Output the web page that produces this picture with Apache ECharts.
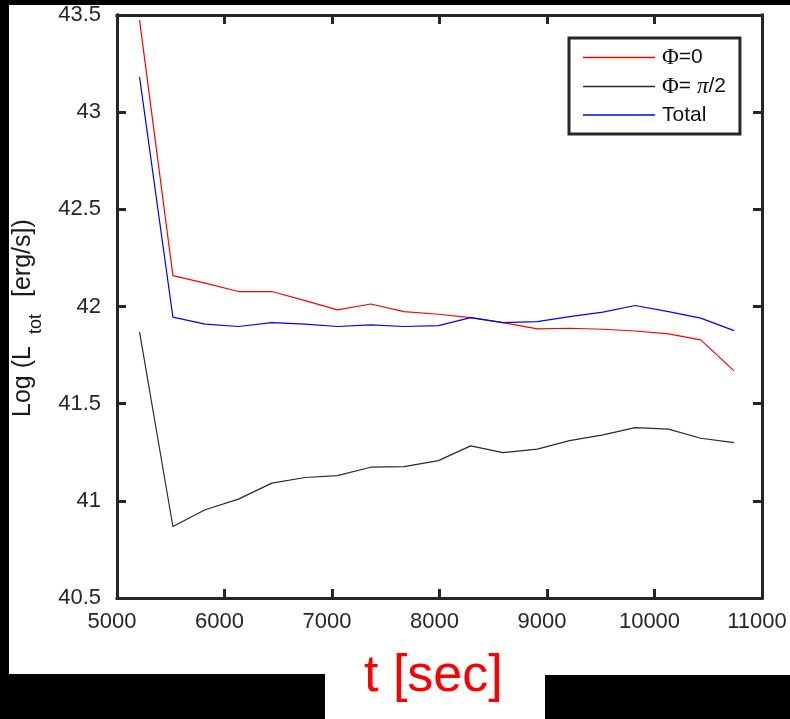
<!DOCTYPE html>
<html>
<head>
<meta charset="utf-8">
<script src="https://cdn.jsdelivr.net/npm/echarts@6/dist/echarts.min.js"></script>
<style>
  html, body { margin: 0; padding: 0; background: #fff; }
  #chart { width: 790px; height: 719px; }
</style>
</head>
<body>
<div id="chart"></div>
<script>
// Time samples (s)
const times = [5210, 5520, 5820, 6130, 6440, 6750, 7050, 7360, 7670, 7990,
               8290, 8590, 8910, 9210, 9520, 9820, 10130, 10430, 10740];

// Log luminosity for each viewing angle and the total
const phi0 = [43.474, 42.159, 42.120, 42.077, 42.077, 42.030, 41.983, 42.013, 41.974, 41.960,
              41.943, 41.917, 41.885, 41.888, 41.883, 41.874, 41.859, 41.828, 41.669];
const phiHalfPi = [41.868, 40.868, 40.954, 41.009, 41.091, 41.120, 41.130, 41.173, 41.176, 41.207,
                   41.283, 41.248, 41.266, 41.310, 41.339, 41.377, 41.369, 41.322, 41.300];
const total = [43.180, 41.945, 41.909, 41.897, 41.917, 41.909, 41.897, 41.905, 41.897, 41.902,
               41.943, 41.917, 41.922, 41.948, 41.971, 42.005, 41.974, 41.940, 41.876];

const seriesNames = ['Φ=0', 'Φ= π/2', 'Total'];
const seriesColors = ['#ff0000', '#2a2a2a', '#0000ff'];

// Axis ticks
const xTicks = { min: 5000, max: 11000, step: 1000 };
const yTicks = { min: 40.5, max: 43.5, step: 0.5 };

const axisColor = '#262626';
const font = 'Liberation Sans';

function pairs(xs, ys) { return xs.map((x, i) => [x, ys[i]]); }

const chart = echarts.init(document.getElementById('chart'), null, { renderer: 'canvas' });

const frameLine = { show: true, lineStyle: { color: axisColor, width: 3, cap: 'square' } };
const innerTick = { show: true, inside: true, length: 9, lineStyle: { color: axisColor, width: 3 } };

chart.setOption({
  backgroundColor: '#ffffff',
  animation: false,
  grid: { left: 117, right: 28, top: 15, bottom: 121, containLabel: false },
  xAxis: [
    {
      type: 'value', position: 'bottom',
      min: xTicks.min, max: xTicks.max, interval: xTicks.step,
      axisLine: frameLine, axisTick: innerTick, splitLine: { show: false },
      axisLabel: {
        color: axisColor, fontFamily: font, fontSize: 22, margin: 13,
        padding: [0, 10, 0, 0],
        formatter: v => String(v)
      }
    },
    {
      type: 'value', position: 'top',
      min: xTicks.min, max: xTicks.max, interval: xTicks.step,
      axisLine: frameLine, axisTick: innerTick, splitLine: { show: false },
      axisLabel: { show: false }
    }
  ],
  yAxis: [
    {
      type: 'value', position: 'left',
      min: yTicks.min, max: yTicks.max, interval: yTicks.step,
      axisLine: frameLine, axisTick: innerTick, splitLine: { show: false },
      axisLabel: {
        color: axisColor, fontFamily: font, fontSize: 22, margin: 16,
        formatter: v => String(v)
      }
    },
    {
      type: 'value', position: 'right',
      min: yTicks.min, max: yTicks.max, interval: yTicks.step,
      axisLine: frameLine, axisTick: innerTick, splitLine: { show: false },
      axisLabel: { show: false }
    }
  ],
  legend: {
    orient: 'vertical',
    left: 569, top: 38,
    icon: 'rect',
    itemWidth: 72, itemHeight: 1.3, itemGap: 6,
    padding: [8, 14, 8, 14],
    borderColor: axisColor, borderWidth: 3, borderRadius: 0,
    backgroundColor: '#ffffff',
    data: seriesNames,
    textStyle: {
      fontFamily: font, fontSize: 21, color: '#111', lineHeight: 22,
      padding: [0, 0, 0, 2],
      rich: {
        phi: { fontFamily: 'Liberation Serif', fontSize: 23, color: '#111' },
        pi: { fontFamily: 'Liberation Serif', fontStyle: 'italic', fontSize: 23, color: '#111' }
      }
    },
    formatter: name => name.replace('Φ', '{phi|Φ}').replace('π', '{pi|π}')
  },
  series: [
    { name: seriesNames[0], data: pairs(times, phi0) },
    { name: seriesNames[1], data: pairs(times, phiHalfPi) },
    { name: seriesNames[2], data: pairs(times, total) }
  ].map((s, i) => Object.assign(s, {
    type: 'line',
    xAxisIndex: 0, yAxisIndex: 0,
    symbol: 'none',
    color: seriesColors[i],
    lineStyle: { color: seriesColors[i], width: 1.2 }
  })),
  graphic: [
    // dark surround of the figure
    { type: 'rect', shape: { x: 0, y: 0, width: 790, height: 5 }, style: { fill: '#000' }, z: 100 },
    { type: 'rect', shape: { x: 0, y: 0, width: 9, height: 719 }, style: { fill: '#000' }, z: 100 },
    { type: 'rect', shape: { x: 0, y: 674, width: 325, height: 45 }, style: { fill: '#000' }, z: 100 },
    { type: 'rect', shape: { x: 545, y: 675, width: 245, height: 44 }, style: { fill: '#000' }, z: 100 },
    // y-axis title with subscript
    {
      type: 'group', x: 23, y: 417, rotation: Math.PI / 2, z: 100,
      children: [
        { type: 'text', x: 0, y: 0, style: { text: 'Log (L', fontFamily: font, fontSize: 25, fill: '#1a1a1a', align: 'left', verticalAlign: 'middle' } },
        { type: 'text', x: 83, y: 13.5, style: { text: 'tot', fontFamily: font, fontSize: 18, fill: '#1a1a1a', align: 'left', verticalAlign: 'middle' } },
        { type: 'text', x: 120, y: 0, style: { text: '[erg/s])', fontFamily: font, fontSize: 25, fill: '#1a1a1a', align: 'left', verticalAlign: 'middle' } }
      ]
    },
    // x-axis title
    {
      type: 'text', x: 364, y: 677, z: 100,
      style: { text: 't [sec]', fontFamily: font, fontSize: 52, fill: '#ff0000', align: 'left', verticalAlign: 'middle' }
    }
  ]
});
</script>
</body>
</html>
